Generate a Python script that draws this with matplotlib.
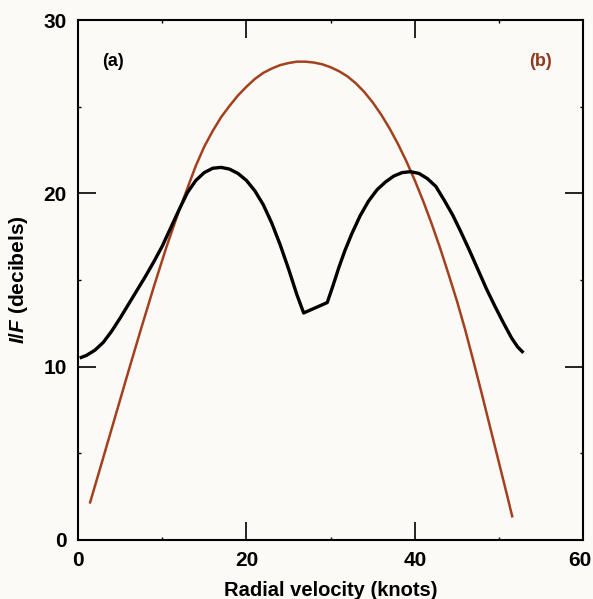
import matplotlib
matplotlib.use("Agg")
import matplotlib.pyplot as plt
from matplotlib.ticker import MultipleLocator
import matplotlib.transforms as mtransforms

plt.rcParams['font.family'] = ['Liberation Sans', 'DejaVu Sans']
plt.rcParams['mathtext.fontset'] = 'custom'
plt.rcParams['mathtext.it'] = 'Liberation Sans:italic:bold'
plt.rcParams['mathtext.rm'] = 'Liberation Sans:bold'

# Curve (a): black, double-peaked
a_x = [0.2, 1, 2, 3, 4, 5, 6, 7, 8, 9, 10, 11, 12, 13, 14, 15, 16, 17, 18, 19,
       20, 21, 22, 23, 24, 25, 26, 26.8, 29.6, 30.3, 31.0, 31.7, 32.5, 33.5,
       34.5, 35.5, 36.5, 37.5, 38.5, 39.5, 40.5, 41.5, 42.5, 43.5, 44.5, 45.5,
       46.5, 47.5, 48.5, 49.5, 50.5, 51.5, 52.2, 52.9]
a_y = [10.5, 10.65, 10.95, 11.4, 12.05, 12.8, 13.6, 14.4, 15.2, 16.05, 16.95, 18.0,
       19.05, 20.05, 20.75, 21.2, 21.45, 21.5, 21.4, 21.15, 20.75, 20.15, 19.35,
       18.3, 17.05, 15.65, 14.15, 13.1, 13.7, 14.7, 15.75, 16.7, 17.65, 18.7,
       19.55, 20.2, 20.65, 21.0, 21.2, 21.25, 21.15, 20.85, 20.4, 19.6, 18.75,
       17.75, 16.7, 15.6, 14.5, 13.5, 12.55, 11.65, 11.15, 10.8]

# Curve (b): brown, single hump
b_x = [1.4, 3, 4.5, 6, 7.5, 9, 10.5, 12, 13, 14, 15, 16, 17, 18, 19, 20, 21, 22,
       23, 24, 25, 26, 27, 28, 29, 30, 31, 32, 33, 34, 35, 36, 37, 38, 39, 40,
       41, 42, 43, 44, 45, 46, 47, 48, 49, 50, 51, 51.6]
b_y = [2.1, 4.75, 7.25, 9.75, 12.2, 14.6, 16.9, 19.0, 20.3, 21.6, 22.7, 23.6,
       24.4, 25.05, 25.65, 26.15, 26.6, 26.95, 27.2, 27.4, 27.52, 27.6, 27.6,
       27.55, 27.45, 27.28, 27.05, 26.75, 26.35, 25.85, 25.25, 24.55, 23.75,
       22.85, 21.85, 20.75, 19.55, 18.25, 16.85, 15.35, 13.8, 12.1, 10.25, 8.35,
       6.4, 4.45, 2.5, 1.3]

x_ticks = [0, 20, 40, 60]
y_ticks = [0, 10, 20, 30]

bg = '#fcfaf6'
brown = '#a3401d'

fig = plt.figure(figsize=(5.93, 5.99), dpi=100, facecolor=bg)
ax = fig.add_axes([0.1315, 0.0985, 0.852, 0.868])
ax.set_facecolor(bg)

ax.plot(b_x, b_y, color=brown, lw=1.8, solid_capstyle='butt', solid_joinstyle='round')
ax.plot(a_x, a_y, color='black', lw=2.4, solid_capstyle='butt', solid_joinstyle='round')

ax.set_xlim(0, 60)
ax.set_ylim(0, 30)
ax.set_xticks(x_ticks)
ax.set_yticks(y_ticks)
ax.xaxis.set_minor_locator(MultipleLocator(10))
ax.yaxis.set_minor_locator(MultipleLocator(5))
ax.tick_params(which='major', direction='in', length=13, width=1.2,
               top=True, right=True, labelsize=15, pad=8)
ax.tick_params(which='minor', direction='in', length=2, width=1.0,
               top=True, right=True)
for lab in ax.get_xticklabels() + ax.get_yticklabels():
    lab.set_fontweight('bold')
# nudge the last x tick label so it stays inside the figure
last = ax.get_xticklabels()[-1]
last.set_transform(last.get_transform() +
                   mtransforms.ScaledTranslation(-3 / 100, 0, fig.dpi_scale_trans))
for s in ax.spines.values():
    s.set_linewidth(1.5)

ax.set_xlabel('Radial velocity (knots)', fontsize=14.5, fontweight='bold', labelpad=8)
ax.set_ylabel(r'$I/F$ (decibels)', fontsize=15, fontweight='bold', labelpad=10)

ax.text(4.2, 27.6, '(a)', fontsize=13, fontweight='bold', ha='center', va='center', color='black')
ax.text(54.9, 27.6, '(b)', fontsize=13, fontweight='bold', ha='center', va='center', color='#8f3a1c')

fig.savefig('out.png', dpi=100, facecolor=bg)
